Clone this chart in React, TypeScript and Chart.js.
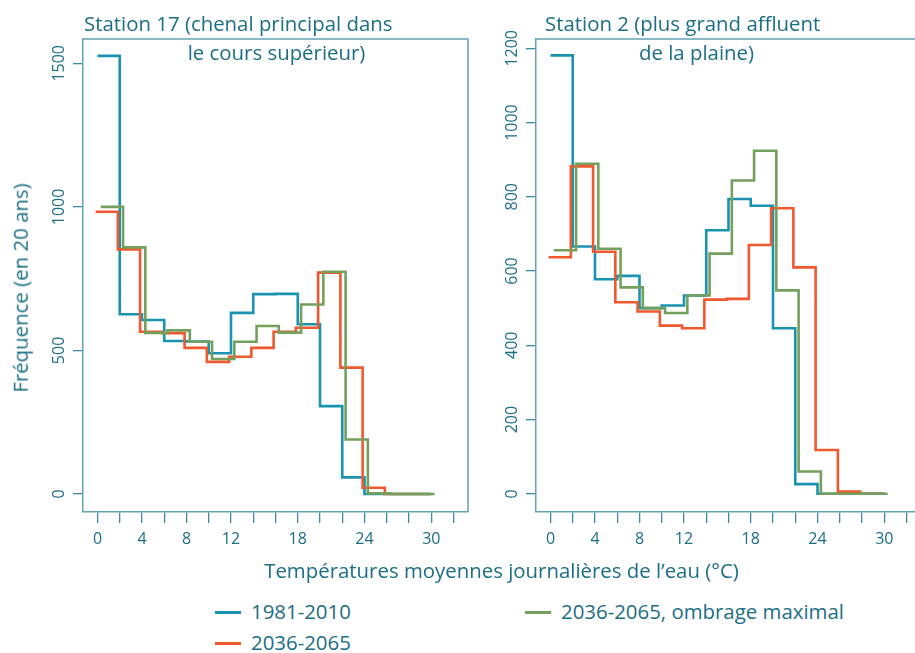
import React, { useEffect, useRef } from 'react';
import { Chart, registerables } from 'chart.js';

Chart.register(...registerables);

// ---- data (bins of 2 °C starting at these temperatures) ----
const binStarts = [0, 2, 4, 6, 8, 10, 12, 14, 16, 18, 20, 22, 24, 26, 28];
const binWidth = 2;

const seriesNames = ['1981-2010', '2036-2065', '2036-2065, ombrage maximal'];

// Station 17
const s17_1981 = [1526, 626, 606, 533, 531, 490, 631, 696, 697, 591, 306, 58, 0, 0, 0];
const s17_2036 = [983, 852, 565, 560, 509, 460, 478, 509, 565, 579, 771, 440, 22, 0, 0];
const s17_shade = [1000, 859, 561, 570, 530, 470, 530, 585, 562, 660, 774, 190, 2, 0, 0];

// Station 2
const s2_1981 = [1181, 666, 578, 587, 500, 507, 534, 710, 794, 776, 446, 26, 0, 0, 0];
const s2_2036 = [637, 882, 652, 516, 491, 453, 446, 523, 525, 670, 769, 610, 118, 6, 0];
const s2_shade = [656, 889, 660, 556, 500, 487, 534, 647, 844, 924, 548, 60, 0, 0, 0];

// ticks
const xTicks = [0, 2, 4, 6, 8, 10, 12, 14, 16, 18, 20, 22, 24, 26, 28, 30, 32];
const xTickLabels = [0, 4, 8, 12, 18, 24, 30];
const yTicksS17 = [0, 500, 1000, 1500];
const yTicksS2 = [0, 200, 400, 600, 800, 1000, 1200];

const titleS17 = ['Station 17 (chenal principal dans', 'le cours supérieur)'];
const titleS2 = ['Station 2 (plus grand affluent', 'de la plaine)'];
const yTitle = 'Fréquence (en 20 ans)';
const xTitle = 'Températures moyennes journalières de l’eau (°C)';

// ---- styles ----
const BLUE = '#1a93b0';
const RED = '#f0582e';
const GREEN = '#74a05d';
const TEXT = '#1b6e84';
const FRAME = '#64a3b3';
const TICK = '#3b8a9d';
const FONT = "'Open Sans', sans-serif";
const SHIFTS = [0, -0.17, 0.3]; // small visual dodge between the series

function steps(values: number[], shift: number) {
  const pts = binStarts.map((x, i) => ({ x: x + shift, y: values[i] }));
  pts.push({ x: binStarts[binStarts.length - 1] + binWidth + shift, y: values[values.length - 1] });
  return pts;
}

const framePlugin = {
  id: 'frameTitle',
  afterDraw(chart: any, _args: any, opts: any) {
    const { ctx, chartArea } = chart;
    const { left, right, top, bottom } = chartArea;
    ctx.save();
    ctx.strokeStyle = FRAME;
    ctx.lineWidth = 1.5;
    ctx.beginPath();
    ctx.moveTo(left, top);
    ctx.lineTo(right, top);
    ctx.lineTo(right, bottom);
    ctx.stroke();
    ctx.fillStyle = TEXT;
    ctx.font = `20.4px ${FONT}`;
    ctx.textBaseline = 'alphabetic';
    ctx.textAlign = 'left';
    ctx.fillText(opts.lines[0], left + opts.dx1, top - 8.5);
    ctx.textAlign = 'center';
    ctx.fillText(opts.lines[1], left + opts.cx2, top + 20.5);
    ctx.restore();
  },
};

type PanelProps = {
  series: number[][];
  yTicks: number[];
  yMin: number;
  yMax: number;
  lines: string[];
  dx1: number;
  cx2: number;
};

function Panel({ series, yTicks, yMin, yMax, lines, dx1, cx2 }: PanelProps) {
  const ref = useRef<HTMLCanvasElement>(null);
  useEffect(() => {
    if (!ref.current) return;
    const colors = [BLUE, RED, GREEN];
    const chart = new Chart(ref.current, {
      type: 'line',
      data: {
        datasets: series.map((vals, i) => ({
          label: seriesNames[i],
          data: steps(vals, SHIFTS[i]),
          borderColor: colors[i],
          backgroundColor: colors[i],
          borderWidth: 2.6,
          stepped: 'before',
          pointRadius: 0,
          fill: false,
          order: 2 - i,
        })),
      },
      options: {
        animation: false,
        responsive: false,
        maintainAspectRatio: false,
        devicePixelRatio: 1,
        layout: { padding: { left: 0, top: 39, right: 2, bottom: 0 } },
        plugins: {
          legend: { display: false },
          tooltip: { enabled: false },
          title: { display: false },
          frameTitle: { lines, dx1, cx2 },
        } as any,
        scales: {
          x: {
            type: 'linear',
            min: -1.3,
            max: 33.3,
            afterBuildTicks: (s: any) => {
              s.ticks = xTicks.map((v) => ({ value: v }));
            },
            afterFit: (s: any) => {
              s.height = 48;
            },
            grid: { drawOnChartArea: false, drawTicks: true, tickLength: 11, color: TICK, lineWidth: 1.3 },
            border: { display: true, color: FRAME, width: 1.5 },
            ticks: {
              autoSkip: false,
              minRotation: 0,
              maxRotation: 0,
              padding: 7,
              color: TEXT,
              font: { family: FONT, size: 16 },
              callback: (v: any) => (xTickLabels.includes(Number(v)) ? String(v) : ''),
            },
          },
          y: {
            type: 'linear',
            min: yMin,
            max: yMax,
            afterBuildTicks: (s: any) => {
              s.ticks = yTicks.map((v) => ({ value: v }));
            },
            afterFit: (s: any) => {
              s.width = 83;
            },
            grid: { drawOnChartArea: false, drawTicks: true, tickLength: 10, color: TICK, lineWidth: 1.3 },
            border: { display: true, color: FRAME, width: 1.5 },
            ticks: {
              minRotation: 90,
              maxRotation: 90,
              crossAlign: 'center',
              padding: -5,
              color: TEXT,
              font: { family: FONT, size: 16 },
              callback: (v: any) => String(v),
            },
          },
        },
      } as any,
      plugins: [framePlugin],
    });
    return () => chart.destroy();
  }, []);
  return <canvas ref={ref} width={470} height={560} style={{ width: 470, height: 560, display: 'block' }} />;
}

const legendItems = [
  { name: seriesNames[0], color: BLUE, x: 215, y: 612 },
  { name: seriesNames[1], color: RED, x: 215, y: 643 },
  { name: seriesNames[2], color: GREEN, x: 525, y: 612 },
];

export default function App() {
  const textStyle: React.CSSProperties = {
    position: 'absolute',
    fontFamily: FONT,
    fontSize: '20.4px',
    lineHeight: 1,
    color: TEXT,
    whiteSpace: 'nowrap',
  };
  return (
    <div
      style={{
        position: 'fixed',
        left: 0,
        top: 0,
        width: 915,
        height: 653,
        overflow: 'hidden',
        background: '#fff',
      }}
    >
      <div style={{ position: 'absolute', left: 0, top: 0 }}>
        <Panel
          series={[s17_1981, s17_2036, s17_shade]}
          yTicks={yTicksS17}
          yMin={-62.7}
          yMax={1584.7}
          lines={titleS17}
          dx1={1}
          cx2={193.5}
        />
      </div>
      <div style={{ position: 'absolute', left: 453, top: 0 }}>
        <Panel
          series={[s2_1981, s2_2036, s2_shade]}
          yTicks={yTicksS2}
          yMin={-49}
          yMax={1225}
          lines={titleS2}
          dx1={9}
          cx2={160.5}
        />
      </div>
      <div
        style={{
          ...textStyle,
          left: 19.5,
          top: 288,
          transform: 'translate(-50%, -50%) rotate(-90deg)',
        }}
      >
        {yTitle}
      </div>
      <div style={{ ...textStyle, left: 501.5, top: 560, transform: 'translateX(-50%)' }}>{xTitle}</div>
      {legendItems.map((it) => (
        <React.Fragment key={it.name}>
          <div
            style={{
              position: 'absolute',
              left: it.x,
              top: it.y - 1.5,
              width: 26,
              height: 3,
              background: it.color,
            }}
          />
          <div style={{ ...textStyle, left: it.x + 36, top: it.y - 10.8 }}>{it.name}</div>
        </React.Fragment>
      ))}
    </div>
  );
}
